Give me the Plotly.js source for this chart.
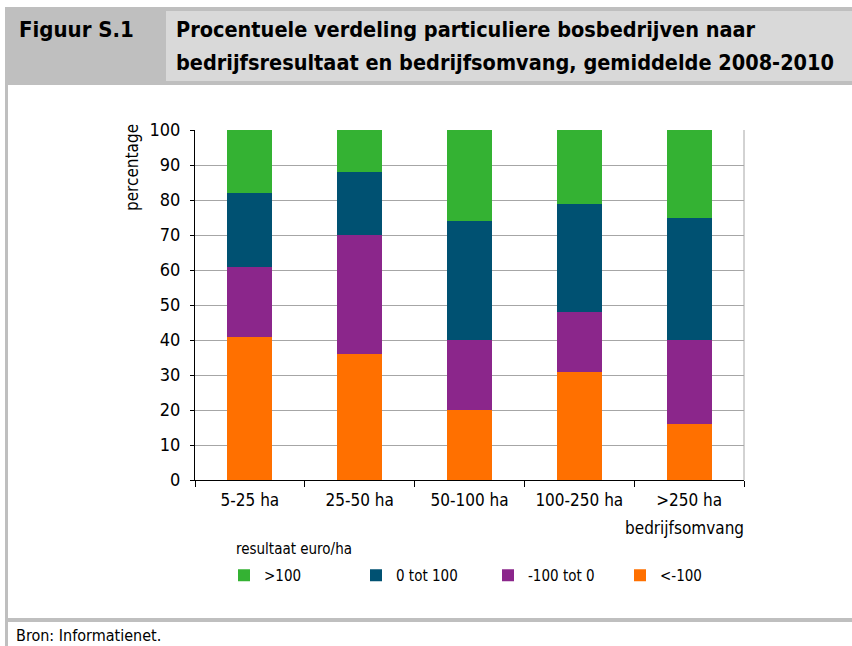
<!DOCTYPE html>
<html>
<head>
<meta charset="utf-8">
<script src="https://cdn.plot.ly/plotly-3.0.1.min.js"></script>
<style>
html,body{margin:0;padding:0;background:#fff;}
#chart{width:852px;height:646px;}
</style>
</head>
<body>
<div id="chart"></div>
<script>
// ---- data ----
var categories = ["5-25 ha", "25-50 ha", "50-100 ha", "100-250 ha", ">250 ha"];
var seriesNames = [">100", "0 tot 100", "-100 tot 0", "<-100"];
var valsOver100   = [18, 12, 26, 21, 25];
var vals0to100    = [21, 18, 34, 31, 35];
var valsMin100to0 = [20, 34, 20, 17, 24];
var valsUnderMin100 = [41, 36, 20, 31, 16];
var yTicks = [0, 10, 20, 30, 40, 50, 60, 70, 80, 90, 100];

var titleLines = ["Procentuele verdeling particuliere bosbedrijven naar",
                  "bedrijfsresultaat en bedrijfsomvang, gemiddelde 2008-2010"];
var figLabel = "Figuur S.1";
var sourceText = "Bron: Informatienet.";
var yTitle = "percentage";
var xTitle = "bedrijfsomvang";
var legendTitle = "resultaat euro/ha";

// ---- layout geometry ----
var W = 852, H = 646;
var L = 195, R = 744, T = 130, B = 480;
function px(x){ return (x - L) / (R - L); }
function py(y){ return (B - y) / (B - T); }

var FONT = "'DejaVu Sans Condensed', 'DejaVu Sans', sans-serif";

var colors = {">100": "#34b233", "0 tot 100": "#005172", "-100 tot 0": "#8b268b", "<-100": "#ff7000"};

var traces = [
  {name: "<-100", y: valsUnderMin100},
  {name: "-100 tot 0", y: valsMin100to0},
  {name: "0 tot 100", y: vals0to100},
  {name: ">100", y: valsOver100}
].map(function(t){
  return {type: "bar", x: categories, y: t.y, name: t.name,
          marker: {color: colors[t.name], line: {width: 0}}, hoverinfo: "y+name"};
});

function rect(x0, y0, x1, y1, color){
  return {type: "rect", xref: "paper", yref: "paper", x0: px(x0), x1: px(x1), y0: py(y0), y1: py(y1),
          fillcolor: color, line: {width: 0}, layer: "below"};
}

var shapes = [
  rect(5, 7, 852, 85, "#bfbfbf"),
  rect(166, 11, 852, 81, "#d9d9d9"),
  rect(5, 85, 8, 646, "#bfbfbf"),
  rect(5, 618, 852, 622, "#bfbfbf"),
  {type: "line", xref: "paper", yref: "paper", x0: 1, x1: 1, y0: 0, y1: 1, line: {color: "#a6a6a6", width: 1}}
];

function ann(text, x, y, opts){
  var a = {text: text, xref: "paper", yref: "paper", x: px(x), y: py(y), showarrow: false,
           xanchor: "left", yanchor: "middle", font: {family: FONT, size: 18, color: "#000"}};
  for (var k in opts) a[k] = opts[k];
  return a;
}

var annotations = [
  ann(figLabel, 17, 30, {font: {family: FONT, size: 22, color: "#000", weight: "bold"}}),
  ann(titleLines[0], 174, 30, {font: {family: FONT, size: 21.5, color: "#000", weight: "bold"}}),
  ann(titleLines[1], 174, 63, {font: {family: FONT, size: 21.5, color: "#000", weight: "bold"}}),
  ann(yTitle, 132, 168, {textangle: -90, xanchor: "center", font: {family: FONT, size: 17, color: "#000"}}),
  ann(xTitle, 746, 528, {xanchor: "right", font: {family: FONT, size: 17, color: "#000"}}),
  ann(legendTitle, 234, 549, {font: {family: FONT, size: 15, color: "#000"}}),
  ann(sourceText, 14, 635, {font: {family: FONT, size: 16, color: "#000"}})
];

var layout = {
  width: W, height: H,
  margin: {l: L, r: W - R, t: T, b: H - B, pad: 0},
  paper_bgcolor: "#ffffff", plot_bgcolor: "#ffffff",
  barmode: "stack", bargap: 0.59,
  font: {family: FONT, size: 18, color: "#000"},
  xaxis: {type: "category", showline: true, linecolor: "#000", linewidth: 1,
          ticks: "outside", tickson: "boundaries", ticklen: 6, tickcolor: "#000",
          ticklabelstandoff: 5,
          showgrid: false, tickfont: {family: FONT, size: 17}, fixedrange: true},
  yaxis: {range: [0, 100], tickvals: yTicks, showline: true, linecolor: "#000", linewidth: 1,
          ticks: "outside", ticklen: 4, tickcolor: "#000", ticklabelstandoff: 6,
          showgrid: true, gridcolor: "#a6a6a6", gridwidth: 1, zeroline: false,
          tickfont: {family: FONT, size: 18}, fixedrange: true},
  showlegend: true,
  legend: {orientation: "h", traceorder: "reversed", x: px(224), y: py(559), xanchor: "left", yanchor: "top",
           entrywidthmode: "pixels", entrywidth: 87, font: {family: FONT, size: 15}, bgcolor: "rgba(0,0,0,0)"},
  shapes: shapes,
  annotations: annotations
};

Plotly.newPlot("chart", traces, layout, {displayModeBar: false, staticPlot: true});
</script>
</body>
</html>
